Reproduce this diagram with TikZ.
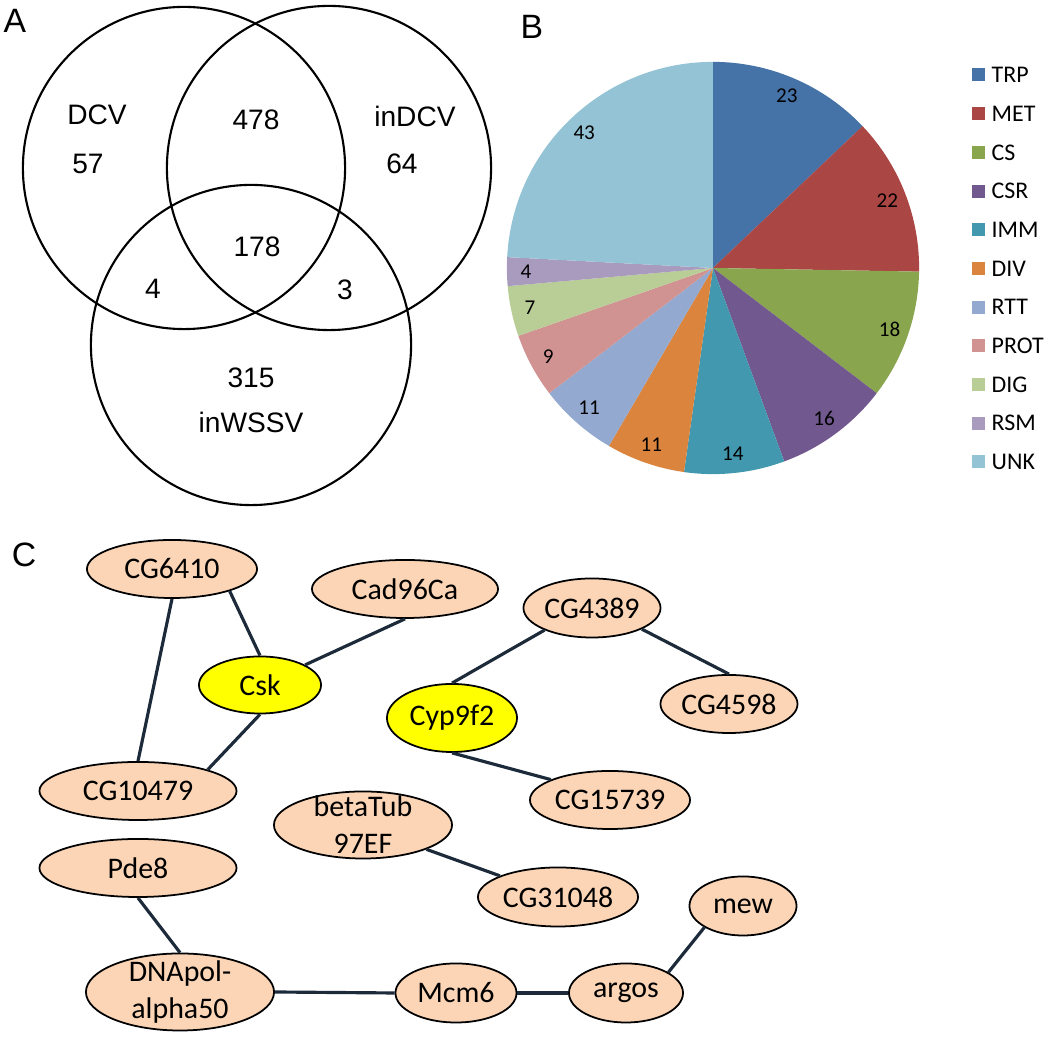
\documentclass[tikz,border=0pt]{standalone}
\usepackage{fontspec}
\setmainfont{Carlito}
\newfontfamily\vennfont{Liberation Sans}
\usetikzlibrary{shapes.geometric}
\definecolor{trpcol}{HTML}{4572A7}
\definecolor{metcol}{HTML}{AA4643}
\definecolor{cscol}{HTML}{89A54E}
\definecolor{csrcol}{HTML}{71588F}
\definecolor{immcol}{HTML}{4198AF}
\definecolor{divcol}{HTML}{DB843D}
\definecolor{rttcol}{HTML}{93A9CF}
\definecolor{protcol}{HTML}{D19392}
\definecolor{digcol}{HTML}{B9CD96}
\definecolor{rsmcol}{HTML}{A99BBD}
\definecolor{unkcol}{HTML}{93C3D5}
\definecolor{genefill}{HTML}{FBD5B5}
\definecolor{hitfill}{HTML}{FFFF00}
\definecolor{edgecol}{HTML}{1C2A3A}
\newcommand{\genefont}{\fontsize{8.5}{10.5}\selectfont}
\newcommand{\venncirc}[3]{%
  \draw[line width=0.6pt] (#1,#2) circle (#3);
}
\tikzset{
  gene/.style={ellipse, draw=black, line width=0.5pt, fill=genefill,
    inner sep=0pt, font=\genefont, align=center},
  hit/.style={gene, fill=hitfill},
  link/.style={draw=edgecol, line width=0.9pt},
  vtext/.style={font=\vennfont\fontsize{8}{9.6}\selectfont},
  panel/.style={font=\vennfont\fontsize{9.6}{11}\selectfont, inner sep=0pt}
}
\begin{document}
\begin{tikzpicture}[x=0.01cm, y=0.01cm]
  \useasboundingbox (0,0) rectangle (1047,1039);

  % panel labels
  \node[panel] (labA) at (15,1018) {A};
  \node[panel] (labB) at (532,1012) {B};
  \node[panel] (labC) at (24,484) {C};

  % A: Venn diagram
  \venncirc{184}{871}{1.61cm}
  \venncirc{329}{871}{1.62cm}
  \venncirc{251}{694}{1.60cm}
  \node[vtext] (vdcv) at (97,924) {DCV};
  \node[vtext] (v57) at (88,875) {57};
  \node[vtext] (v478) at (256,919) {478};
  \node[vtext] (vindcv) at (415,923) {inDCV};
  \node[vtext] (v64) at (402,875) {64};
  \node[vtext] (v178) at (257,792) {178};
  \node[vtext] (v4) at (153,750) {4};
  \node[vtext] (v3) at (345,749) {3};
  \node[vtext] (v315) at (251,661) {315};
  \node[vtext] (vinwssv) at (251,617) {inWSSV};

  % B: pie chart, 178 genes
  \begin{scope}[shift={(713,771)}]
    \foreach \a/\b/\col in {0/23/trpcol, 23/45/metcol, 45/63/cscol,
        63/79/csrcol, 79/93/immcol, 93/104/divcol, 104/115/rttcol,
        115/124/protcol, 124/131/digcol, 131/135/rsmcol, 135/178/unkcol} {
      \pgfmathsetmacro\s{90-\a/178*360}
      \pgfmathsetmacro\e{90-\b/178*360}
      \pgfmathsetmacro\m{(\s+\e)/2}
      \pgfmathtruncatemacro\v{\b-\a}
      \fill[\col] (0,0) -- (\s:2.06cm) arc[start angle=\s, end angle=\e, radius=2.06cm] -- cycle;
      \node[font=\fontsize{6}{7}\selectfont] at (\m:1.87cm) {\v};
    }
  \end{scope}

  % legend
  \foreach \lab/\col [count=\i from 0] in {TRP/trpcol, MET/metcol, CS/cscol,
      CSR/csrcol, IMM/immcol, DIV/divcol, RTT/rttcol, PROT/protcol,
      DIG/digcol, RSM/rsmcol, UNK/unkcol} {
    \fill[\col] (972,{957.5-\i*38.7}) rectangle ++(13,13);
    \node[anchor=west, inner sep=0pt, font=\fontsize{6.8}{8}\selectfont] at (991,{964-\i*38.7}) {\lab};
  }

  % C: gene network
  \node[gene, minimum width=1.70cm, minimum height=0.58cm] (n6410) at (172,470) {CG6410};
  \node[gene, minimum width=1.86cm, minimum height=0.58cm] (cad) at (405,450) {Cad96Ca};
  \node[hit, minimum width=1.22cm, minimum height=0.57cm] (csk) at (260,354) {Csk};
  \node[hit, minimum width=1.30cm, minimum height=0.68cm] (cyp) at (452,321) {Cyp9f2};
  \node[gene, minimum width=1.37cm, minimum height=0.59cm] (n4389) at (592,431) {CG4389};
  \node[gene, minimum width=1.37cm, minimum height=0.58cm] (n4598) at (729,335) {CG4598};
  \node[gene, minimum width=1.60cm, minimum height=0.58cm] (n15739) at (610,239) {CG15739};
  \node[gene, minimum width=1.97cm, minimum height=0.58cm] (n10479) at (138,248) {CG10479};
  \node[gene, minimum width=1.78cm, minimum height=0.67cm, inner ysep=-4pt] (tub) at (363,214) {betaTub\\97EF};
  \node[gene, minimum width=1.60cm, minimum height=0.59cm] (n31048) at (558,142) {CG31048};
  \node[gene, minimum width=1.97cm, minimum height=0.58cm] (pde) at (138,171) {Pde8};
  \node[gene, minimum width=1.07cm, minimum height=0.59cm] (mew) at (743,133) {mew};
  \node[gene, minimum width=1.88cm, minimum height=0.77cm, inner ysep=-4pt] (dnapol) at (180,47) {DNApol-\\alpha50};
  \node[gene, minimum width=1.21cm, minimum height=0.59cm] (mcm) at (456,46) {Mcm6};
  \node[gene, minimum width=1.14cm, minimum height=0.59cm] (argos) at (626,46) {argos};

  % links
  \draw[link] (n6410.-21) -- (csk.90);
  \draw[link] (n6410.-90) -- (n10479.90);
  \draw[link] (csk.24) -- (cad.-90);
  \draw[link] (csk.-90) -- (n10479.17);
  \draw[link] (cyp.90) -- (n4389.205);
  \draw[link] (n4389.-23) -- (n4598.90);
  \draw[link] (cyp.-90) -- (n15739.161);
  \draw[link] (tub.-21) -- (n31048.160);
  \draw[link] (pde.-90) -- (dnapol.90);
  \draw[link] (dnapol.east) -- (mcm.west);
  \draw[link] (mcm.east) -- (argos.west);
  \draw[link] (argos.26) -- (mew.209);
\end{tikzpicture}
\end{document}
